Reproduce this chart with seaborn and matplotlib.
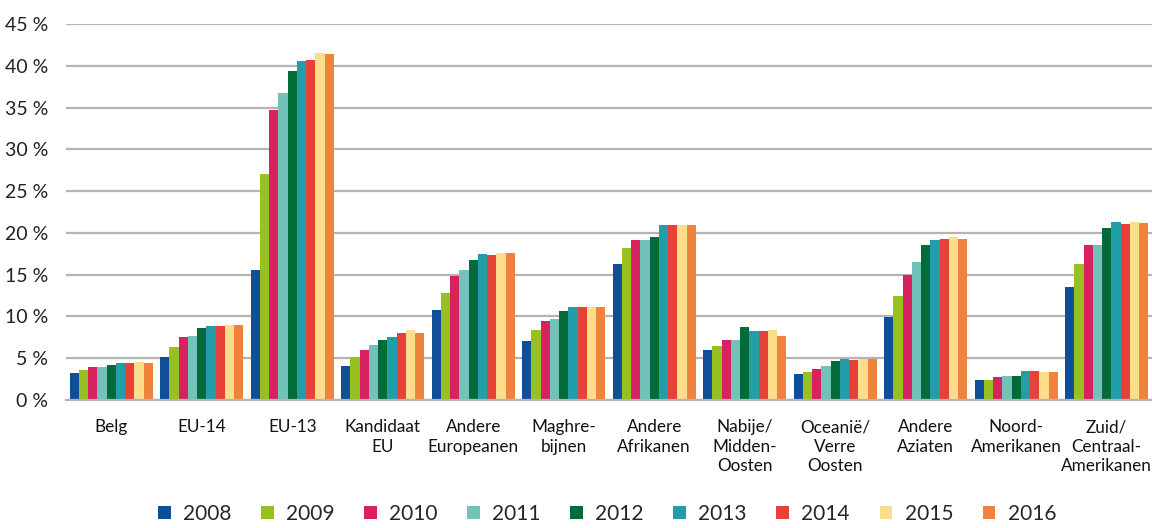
import matplotlib
matplotlib.use("Agg")
import matplotlib.pyplot as plt
import seaborn as sns
import pandas as pd
import numpy as np

categories = ["Belg", "EU-14", "EU-13", "Kandidaat\nEU", "Andere\nEuropeanen", "Maghre-\nbijnen",
              "Andere\nAfrikanen", "Nabije/\nMidden-\nOosten", "Oceanië/\nVerre\nOosten",
              "Andere\nAziaten", "Noord-\nAmerikanen", "Zuid/\nCentraal-\nAmerikanen"]
years = ["2008", "2009", "2010", "2011", "2012", "2013", "2014", "2015", "2016"]

v2008 = [3.2, 5.2, 15.6, 4.1, 10.8, 7.1, 16.3, 6.0, 3.1, 9.9, 2.4, 13.5]
v2009 = [3.6, 6.4, 27.1, 5.2, 12.8, 8.4, 18.2, 6.5, 3.4, 12.5, 2.4, 16.3]
v2010 = [4.0, 7.5, 34.7, 6.0, 14.8, 9.5, 19.1, 7.2, 3.7, 15.0, 2.8, 18.5]
v2011 = [4.0, 7.6, 36.8, 6.6, 15.6, 9.7, 19.1, 7.2, 4.1, 16.5, 2.9, 18.5]
v2012 = [4.2, 8.6, 39.4, 7.2, 16.8, 10.7, 19.5, 8.7, 4.7, 18.6, 2.9, 20.6]
v2013 = [4.4, 8.9, 40.6, 7.5, 17.5, 11.1, 21.0, 8.3, 4.9, 19.1, 3.5, 21.3]
v2014 = [4.4, 8.8, 40.7, 8.0, 17.3, 11.1, 20.9, 8.3, 4.8, 19.3, 3.5, 21.1]
v2015 = [4.5, 9.0, 41.5, 8.4, 17.6, 11.1, 21.0, 8.4, 4.9, 19.5, 3.4, 21.3]
v2016 = [4.4, 9.0, 41.4, 8.0, 17.6, 11.1, 20.9, 7.7, 4.9, 19.3, 3.4, 21.2]
series = [v2008, v2009, v2010, v2011, v2012, v2013, v2014, v2015, v2016]

colors = ["#114e98", "#97c021", "#da2160", "#72c2b9", "#036a3a",
          "#229eab", "#e8413a", "#fddc8c", "#f0833b"]

rows = []
for y, vals in zip(years, series):
    for c, v in zip(categories, vals):
        rows.append({"cat": c, "year": y, "val": v})
df = pd.DataFrame(rows)

sns.set_style("white")
plt.rcParams["font.family"] = ["Lato", "DejaVu Sans"]

fig = plt.figure(figsize=(11.52, 5.28), dpi=100)
ax = fig.add_axes([66 / 1152, (528 - 400) / 528, 1 - 66 / 1152, (400 - 24) / 528])

sns.barplot(data=df, x="cat", y="val", hue="year", order=categories, hue_order=years,
            palette=colors, width=0.92, gap=0, saturation=1, linewidth=0, ax=ax, legend=True)

ax.set_ylim(0, 45)
ax.set_xlim(-0.5, len(categories) - 0.5)
ax.set_yticks(np.arange(0, 46, 5))
ax.set_yticklabels([f"{t} %" for t in range(0, 46, 5)], fontsize=14, color="#222222")
ax.yaxis.grid(True, color="#b4b4b4", linewidth=1.6)
ax.set_axisbelow(True)
ax.set_xlabel("")
ax.set_ylabel("")
for s in ["left", "right", "top"]:
    ax.spines[s].set_visible(False)
ax.spines["bottom"].set_color("#b4b4b4")
ax.spines["bottom"].set_linewidth(1.6)
ax.tick_params(axis="y", length=0, pad=13)

ax.set_xticks(range(len(categories)))
ax.set_xticklabels(categories, fontsize=12.3, color="#111111", linespacing=1.25)
ax.tick_params(axis="x", which="major", length=0, pad=14)
ax.set_xticks(np.arange(-0.5, len(categories) + 0.5, 1), minor=True)
ax.tick_params(axis="x", which="minor", length=14, width=1.4, color="#b4b4b4")

handles, labels = ax.get_legend_handles_labels()
ax.get_legend().remove()
fig.legend(handles, labels, loc="lower center", bbox_to_anchor=(0.527, -0.027), ncol=9,
           frameon=False, handlelength=0.6, handleheight=0.6, handletextpad=0.6,
           columnspacing=1.42, prop={"size": 15})

fig.savefig("out.png", dpi=100)
